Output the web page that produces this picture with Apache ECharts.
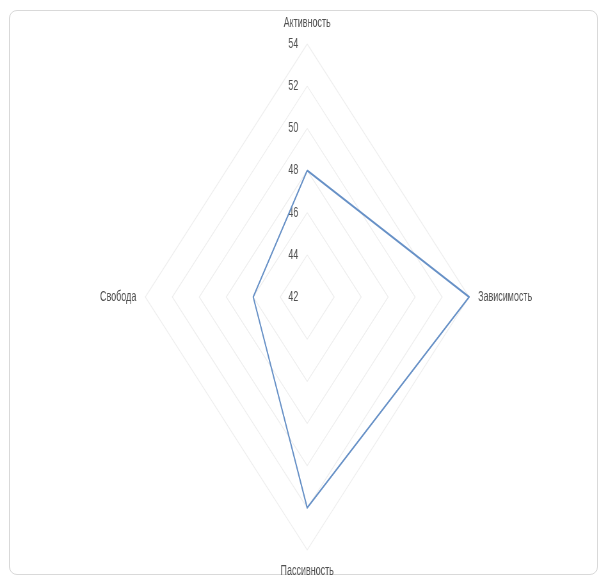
<!DOCTYPE html>
<html>
<head>
<meta charset="utf-8">
<script src="https://cdn.jsdelivr.net/npm/echarts@6/dist/echarts.min.js"></script>
<style>
  html, body { margin:0; padding:0; background:#ffffff; }
  #frame { position:absolute; left:9px; top:10px; width:589px; height:565px; border:1px solid #d9d9d9; border-radius:8px; box-sizing:border-box; }
  #wrap { position:absolute; left:0; top:0; width:603px; height:579px; overflow:hidden; }
  #main { width:942px; height:579px; transform:scaleX(0.64); transform-origin:0 0; }
</style>
</head>
<body>
<div id="frame"></div>
<div id="wrap"><div id="main"></div></div>
<script>
// Categories in clockwise order starting at the top (as in the source chart)
const categories = ['Активность', 'Зависимость', 'Пассивность', 'Свобода'];
const seriesValues = [48, 54, 52, 46];
const axisMin = 42;
const axisMax = 54;
const tickStep = 2;

// ECharts lays out radar indicators counter-clockwise; reorder to keep the clockwise layout
const order = [0].concat(categories.map((_, i) => i).slice(1).reverse());

const indicator = order.map((i, k) => ({
  name: categories[i],
  min: axisMin,
  max: axisMax,
  axisLabel: { show: k === 0 }
}));
const values = order.map(i => seriesValues[i]);

const chart = echarts.init(document.getElementById('main'));
chart.setOption({
  animation: false,
  backgroundColor: 'transparent',
  radar: {
    center: [480, 297],
    radius: 253,
    startAngle: 90,
    shape: 'polygon',
    splitNumber: (axisMax - axisMin) / tickStep,
    indicator: indicator,
    nameGap: 14,
    axisName: { color: '#505050', fontSize: 14, fontFamily: 'Liberation Sans' },
    axisLine: { show: false },
    axisTick: { show: false },
    axisLabel: { show: false, color: '#505050', fontSize: 14, fontFamily: 'Liberation Sans', margin: 14 },
    splitLine: { lineStyle: { color: '#eeeeee', width: 1.2 } },
    splitArea: { show: false }
  },
  series: [{
    type: 'radar',
    symbol: 'none',
    lineStyle: { color: '#6690c6', width: 2 },
    data: [{ value: values, name: 'Ряд1' }]
  }]
});
</script>
</body>
</html>
